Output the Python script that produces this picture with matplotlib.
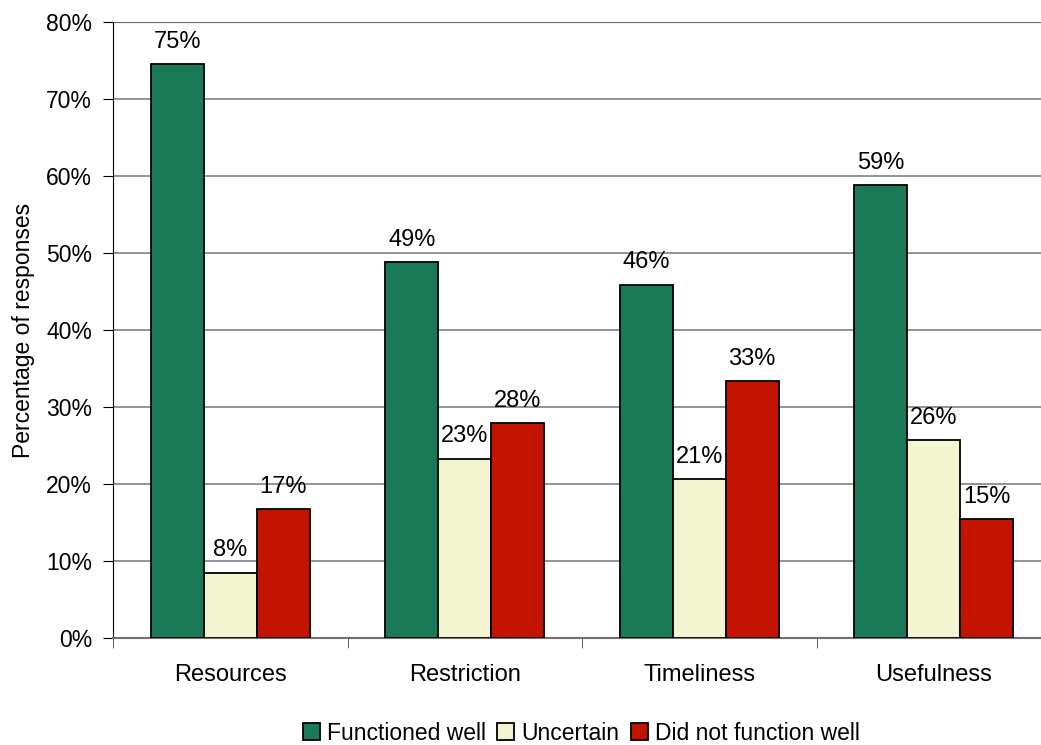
import numpy as np
import matplotlib
import matplotlib.pyplot as plt
from matplotlib.patches import Patch
from matplotlib.ticker import FuncFormatter

plt.rcParams['font.family'] = ['Liberation Sans', 'DejaVu Sans']

# datos
categories = ["Resources", "Restriction", "Timeliness", "Usefulness"]
series = ["Functioned well", "Uncertain", "Did not function well"]
functioned = [74.5, 48.8, 45.9, 58.8]
uncertain = [8.5, 23.3, 20.6, 25.7]
not_functioned = [16.8, 27.9, 33.4, 15.4]
labels_functioned = ["75%", "49%", "46%", "59%"]
labels_uncertain = ["8%", "23%", "21%", "26%"]
labels_not = ["17%", "28%", "33%", "15%"]

colors = ["#1a7a57", "#f3f4d0", "#c41400"]

fig = plt.figure(figsize=(10.41, 7.45), dpi=100)
ax = fig.add_axes([113/1041, 107/745, 938/1041, 616/745])

x = np.arange(len(categories))
w = 0.226
vals = [functioned, uncertain, not_functioned]
labs = [labels_functioned, labels_uncertain, labels_not]
for i, (v, lb, c) in enumerate(zip(vals, labs, colors)):
    bars = ax.bar(x + (i - 1) * w, v, w, color=c, edgecolor="black",
                  linewidth=1.3, zorder=3)
    for b, t in zip(bars, lb):
        ax.annotate(t, (b.get_x() + b.get_width() / 2, b.get_height()),
                    xytext=(0, 8), textcoords="offset points",
                    ha="center", va="bottom", fontsize=17)

ax.set_xlim(-0.5, 3.5)
ax.set_ylim(0, 80)
ax.set_yticks(np.arange(0, 81, 10))
ax.yaxis.set_major_formatter(FuncFormatter(lambda v, p: f"{int(v)}%"))
ax.grid(axis="y", color="#808080", linewidth=1.2, zorder=0)
ax.set_xticks(x)
ax.set_xticklabels(categories, fontsize=17)
ax.set_xticks(np.arange(-0.5, 3.6, 1), minor=True)
ax.tick_params(axis="x", which="major", length=0, pad=19)
ax.tick_params(axis="x", which="minor", length=7, color="#404040")
ax.tick_params(axis="y", labelsize=16.5, length=7, pad=8)
for s in ["top", "right"]:
    ax.spines[s].set_visible(False)
ax.spines["bottom"].set_color("#707070")
ax.spines["bottom"].set_linewidth(1.5)
ax.axhline(80, color="black", linewidth=1.5, zorder=1)
ax.set_ylabel("Percentage of responses", fontsize=16.5, labelpad=8)

handles = [Patch(facecolor=c, edgecolor="black", linewidth=1.3) for c in colors]
fig.legend(handles, series, loc="center", bbox_to_anchor=(581/1041, 1 - 733/745),
           ncol=3, frameon=False, fontsize=16.5, handlelength=0.75, handleheight=0.75,
           handletextpad=0.3, columnspacing=0.5)

fig.savefig("out.png", dpi=100)
